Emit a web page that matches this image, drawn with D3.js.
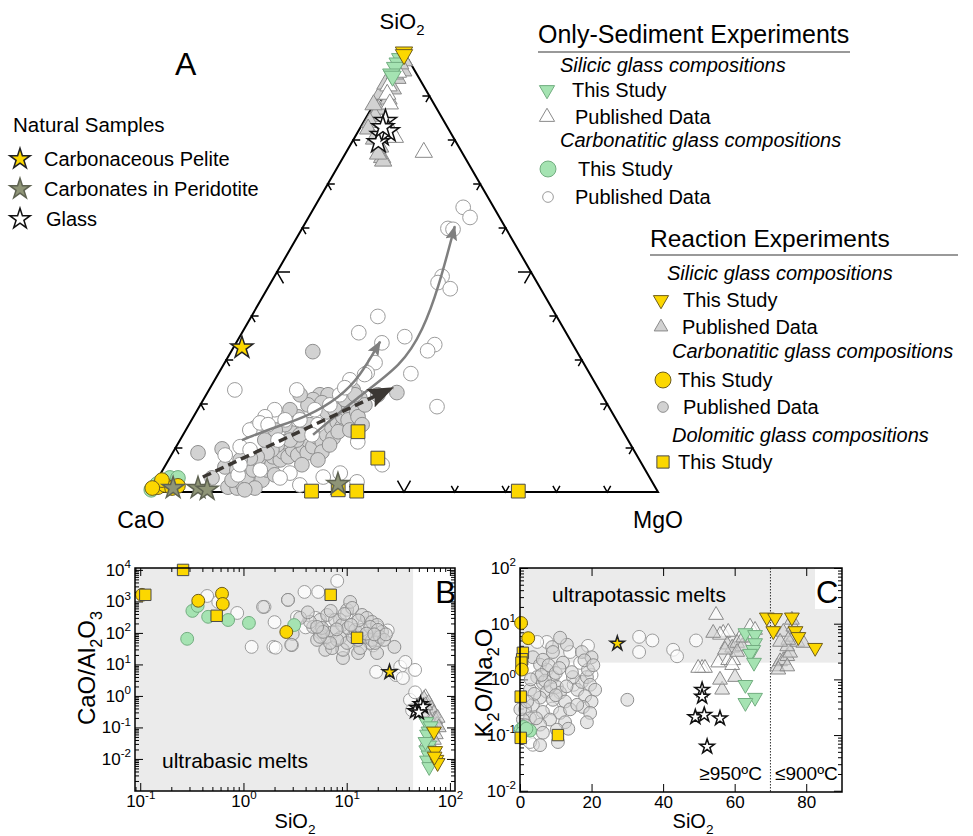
<!DOCTYPE html>
<html>
<head>
<meta charset="utf-8">
<title>SiO2-CaO-MgO melts</title>
<style>
  body { margin: 0; background: #fff; }
  svg { display: block; }
</style>
</head>
<body>
<script src="https://cdn.jsdelivr.net/npm/d3@7"></script>
<script>
// ---------- A: ternary data, [SiO2, CaO, MgO] ----------
const ternSedSilicicThis = [[98.5,1.5,0],[97.5,2.5,0],[96.5,3.5,0],[95,5,0],[94.5,5,0.5]];
const ternSedSilicicPub = [[92.3,6.9,0.8],[90.4,8.1,1.5],[80.6,11.5,7.9],[77.2,7.5,15.3],[95.4,3.5,1.1],[88.2,8.7,3.1]];
const ternSedCarbThis = [[3.2,94.5,2.3],[3.2,92.9,3.9],[1.8,97.7,0.5],[0.5,99.5,0]];
const ternSedCarbPub = [[64.7,6,29.3],[62.4,5.8,31.8],[59.9,11.4,28.7],[59.7,10.5,29.8],[49,18,33],[47.6,19.5,32.9],
  [46.2,17.8,36],[39.9,35.2,24.9],[36.2,40.8,23],[35.3,32.2,32.5],[33.9,37.4,28.7],[33.5,27.2,39.3],[32.1,29.3,38.6],
  [29.4,41,29.6],[27.1,43.7,29.2],[26.9,35.2,37.9],[23.2,71.7,5.1],[23.2,59.5,17.3],[19.4,33.8,46.8],[18.7,66.1,15.2],
  [17.1,68.8,14.1],[14.6,72,13.4],[10.3,77.1,12.6],[3.9,80.7,15.4],[4.3,70.3,25.4],[3.4,64.2,32.4],[6.2,51.2,42.6],
  [2.3,58.1,39.6],[4.3,60.4,35.3],[11.4,53.4,35.2],[14.1,73.3,12.6],[15.7,70.5,13.8],[15.3,69.1,15.6],[16.4,65.2,18.4],
  [16.4,62.3,21.3],[18.7,58.2,23.1],[19.8,54.7,25.5],[22.1,51.6,26.3],[25.5,47.9,26.6],[26.7,44.4,28.9],[23.7,49.8,26.5],
  [15.3,59.3,25.4],[11.8,68.9,19.3],[9.6,75.5,14.9],[5,75.8,19.2],[3.2,72.8,24],[1.6,69.7,28.7],[6.2,79.2,14.6],
  [8.4,81,10.6],[13,61.6,25.4]];
const ternReactSilicicThis = [[100,0,0],[99.4,0.3,0.3]];
const ternReactSilicicPub = [[98,1,1],[95.7,2.3,2],[94,4.3,1.7],[91.6,6.4,2],[90.4,9.5,0.1],[87,11.6,1.4],[85.4,13,1.6],
  [84,14.7,1.3],[82.5,15.8,1.7],[88,12,0],[78.4,15.5,6.1],[76,16.3,7.7],[75.2,16.5,8.3],[76.8,16.7,6.5],[92.7,7.3,0],
  [97.3,2.1,0.6],[95,4.3,0.7],[89.3,8.4,2.3],[82.5,11.5,6],[80.2,15.8,4]];
const ternReactCarbThis = [[1.1,97.9,1],[1.6,96.25,2.15],[0.9,95.2,3.9],[2.7,96.3,1],[0.9,99.1,0],[1.4,93.8,4.8]];
const ternReactCarbPub = [[8.9,86.1,5],[9.8,80.9,9.3],[5.7,82.4,11.9],[1.1,84.1,14.8],[0.9,82.4,16.7],[1.6,80.9,17.5],
  [4.6,80,15.4],[3.4,79.2,17.4],[5,77.2,17.8],[6.6,75,18.4],[2.7,76.6,20.7],[5,74.5,20.5],[6.2,72.9,20.9],[8,71.8,20.2],
  [7.3,70.7,22],[9.1,69.3,21.6],[8,68.8,23.2],[9.6,67.1,23.3],[8.4,66.7,24.9],[10.3,64.7,25],[8.9,64.6,26.5],
  [11.8,63,25.2],[10.3,62.8,26.9],[12.5,60.9,26.6],[11.4,60.4,28.2],[9.1,61.6,29.3],[13,58.7,28.3],[14.6,56.9,28.5],
  [12.3,57.8,29.9],[15.9,55.2,28.9],[14.8,54.8,30.4],[17.1,53.5,29.4],[18.7,51.9,29.4],[16.4,52.8,30.8],[20.3,49.9,29.8],
  [18.2,50.2,31.6],[17.1,50.5,32.4],[22.1,55.5,22.4],[22.1,53.9,24],[21,57.4,21.6],[20.3,56,23.7],[19.8,59,21.2],
  [18.2,56.1,25.7],[21,52.1,26.9],[23.2,48.4,28.4],[17.1,62.3,20.6],[14.6,62.6,22.8],[13.4,65.3,21.3],[11.8,65.2,23],
  [11.4,68.1,20.5],[10.7,69.6,19.7],[9.6,71.2,19.2],[8.9,72.5,18.6],[8,74.9,17.1],[7.7,76.4,15.9],[7.3,78.6,14.1],
  [5,80.4,14.6],[31.9,52,16.1],[22.6,40.1,37.3],[22.1,44.1,33.8],[2.7,82.5,14.8],[3.2,86.2,10.6],[11.8,66.5,21.7],
  [13,64,23],[15.3,65.8,18.9],[15.3,60.9,23.8],[18.7,54.3,27],[21,51.1,27.9],[21.4,48,30.6],[19.8,47.8,32.4],
  [15.3,50.6,34.1],[7.3,63.3,29.4],[6.2,67,26.8],[3.9,73.5,22.6],[0.9,78.9,20.2],[0.5,81.1,18.4],[10.7,59.3,30],
  [13.7,56.1,30.2],[14.1,53.6,32.3],[22.1,59.4,18.5],[18.7,63.1,18.2],[14.1,68.3,17.6],[11.8,71.5,16.7],[22.1,48.6,29.3]];
const ternReactDoloThis = [[13.7,52.2,34.1],[7.7,51.3,41],[0.2,68.1,31.7],[0.5,62.7,36.8],[0.2,59.2,40.6],[0.2,27.4,72.4]];
const ternPelite = [[32.8,65.5,1.7]];
const ternPeridotite = [[0.9,95,4.1],[0.9,90.1,9],[0.5,88.5,11],[1.8,62.1,36.1]];
const ternGlass = [[84.3,11.5,4.2],[81.1,13.9,5],[79.5,15.3,5.2],[82,12.1,5.9],[82.9,12.7,4.4]];
// trend arrows
const trendLow = [[11.8,76,12.2],[14.6,68.5,16.9],[17.1,60.5,22.4],[21.6,51.8,26.6],[26.2,45.6,28.2],[34.2,37.6,28.2]];
const trendHigh = [[13,61.4,25.6],[21.4,48.6,30],[28.9,35.8,35.3],[36.9,27.8,35.3],[46,20.3,33.7],[60.4,9.8,29.8]];
const trendDashed = [[3.4,87.9,8.7],[23.7,40.3,36]];

// ---------- B: [SiO2, CaO/Al2O3] ----------
const bSedCarbThis = [[0.32,500],[0.36,720],[0.285,65],[0.455,325],[0.71,257],[1.13,208],[3.1,178]];
const bSedCarbPub = [[0.445,1490],[0.57,960],[0.87,430],[1.6,670],[2.7,1120],[3.9,2000],[5.3,2000],[1.2,36],[1.95,36],
  [2.05,34],[2.95,41],[2,220],[3.3,320],[8.1,4480],[19.3,5.8],[33,8.4],[30,4.6],[37,12],[46,6.7],[35,3.7],[41,0.75],
  [43,0.35],[46,1.3],[5,300],[7,250],[10,400],[15,200],[20,150],[25,120],[12,80],[18,40],[9,30],[4,150],[6,80]];
const bReactCarbThis = [[0.104,1620],[0.365,1050],[0.62,1750],[0.63,830],[2.6,107]];
const bReactCarbPub = [[1.55,670],[2.7,1120],[3,93],[2.9,42],[5.5,108],[6.2,29],[9.2,16],[12.9,23],[19.7,23],[29,36],
  [10.1,540],[8.6,259],[10.8,965],[11.3,622],[14.1,372],[15.7,300],[17.6,223],[19.7,179],[22,108],[20.1,60],[16.9,48],
  [13.5,33],[9.23,29],[7.22,33],[5.17,60],[6.46,75],[7.38,108],[8.63,69],[10.1,48],[11.5,75],[12.9,60],[15.1,75],
  [17.6,60],[18.8,48],[4.73,155],[5.52,259],[6.46,372],[7.72,259],[9.02,179],[10.3,144],[12.1,125],[8.07,60],[6.9,48],
  [5.52,75],[4.42,223],[3.54,300],[5.78,144],[5.91,108],[5.17,155],[14.1,125],[16.9,155],[20.1,125],[21,75],[23,60],
  [24,90],[9.5,400],[7,500],[4.2,450],[13,250],[11,180],[8,130],[15.5,95],[18.5,90]];
const bReactDoloThis = [[0.26,10000],[0.112,1620],[0.55,350],[7,1620],[12.6,70]];
const bSedSilicicThis = [[59,0.15],[62,0.075],[60,0.06],[63,0.027],[59,0.019],[62,0.013],[60,0.009],[63,0.0056],[65,0.11],[58,0.035]];
const bSedSilicicPub = [[54,0.7],[58,0.9],[62,0.3],[66,0.05],[60,0.035],[64,0.02],[70,0.13]];
const bReactSilicicThis = [[70,0.075],[72,0.018],[74,0.0095],[76,0.0075],[71,0.012]];
const bReactSilicicPub = [[56,0.8],[62,0.6],[66,0.4],[70,0.28],[72,0.18],[75,0.12],[68,0.09],[73,0.06],[70,0.04],
  [64,0.03],[68,0.02],[60,0.25],[65,0.15],[58,0.5],[76,0.2],[78,0.1]];
const bPelite = [[26,5.7]];
const bGlass = [[48,0.42],[52,0.55],[46,0.33],[55,0.45],[50,0.3]];

// ---------- C: [SiO2, K2O/Na2O] ----------
const cSedCarbThis = [[0.2,0.126],[1,0.14],[2.8,0.12],[0.6,0.11],[1.8,0.13]];
const cSedCarbPub = [[7.5,4.7],[14,3.1],[33.3,5.8],[33.3,3.1],[37,5],[42.8,3.4],[43.9,2.6],[49.2,5],[4.8,4.7],[19,4],
  [16.8,1.98],[3.6,0.067],[2.8,0.075],[9,0.3],[15,0.8],[20,1.2]];
const cReactCarbThis = [[0.3,10.3],[2.3,5.5],[0.5,1.5]];
const cReactCarbPub = [[9,3.8],[9.2,3.1],[13.1,4.2],[17.3,3.1],[20,2.5],[3.6,2.5],[5.6,1.83],[7.5,1.49],[4.8,1.1],
  [9.2,1.1],[6.4,0.87],[10.3,0.73],[2.8,0.65],[7.5,0.6],[11.2,0.58],[5.6,0.47],[9.2,0.43],[12.6,0.4],[3.6,0.35],
  [1.4,0.29],[6.4,0.26],[11.2,0.25],[14,0.29],[2.8,0.2],[8.4,0.19],[12.6,0.17],[5.6,0.154],[16,0.65],[17.3,0.9],
  [18.7,1.1],[19.6,0.8],[21,0.65],[18.2,0.5],[20,0.4],[17.6,0.32],[19.6,0.25],[18.7,0.17],[14.8,1.1],[14.5,1.35],
  [19,1.49],[12,2],[6.4,2.25],[11.2,5.6],[10.3,0.125],[6.4,0.11],[5.6,0.066],[10.6,0.075],[30,0.43],[0.8,0.19],
  [0.1,0.29],[8,1.8],[10,1.3],[7,0.95],[8.5,0.75],[4,0.55],[10,0.52],[13,0.75],[11,1.6],[6,1.2],[3,1],[2,0.4],
  [4.5,0.2],[13.5,0.13],[18,2.2],[20.5,1.8],[16,0.35],[1.5,0.15]];
const cReactDoloThis = [[0.8,3],[0.6,2.3],[0.4,2],[0.2,0.49],[0.2,0.089],[10.6,0.1]];
const cSedSilicicThis = [[63,6.8],[65.7,6.3],[65.7,4.5],[65.2,3.4],[64.3,2.9],[65.4,2],[63,0.8],[65.7,0.47],[63,0.38]];
const cSedSilicicPub = [[54.8,14.3],[56.8,6.8],[58.2,7.1],[55.9,6.3],[64.3,8.8],[65.7,7.7],[50.9,1.6],[51.7,1.6],
  [49.8,1.6],[55.4,2],[58.2,2.2],[59.6,2.2],[59.3,1.8],[61.5,5.6]];
const cReactSilicicThis = [[69,13],[71.3,12.7],[76,13],[70.8,7.4],[77,7.4],[77.8,5.8],[82.5,3.7]];
const cReactSilicicPub = [[60.1,1.1],[56.5,0.65],[55.9,0.98],[57.9,4.2],[59.3,3.7],[60.7,4.5],[62.1,3.9],[60.7,3.1],
  [57.3,3.4],[62.4,5.6],[71.9,1.7],[72.7,2.1],[73.6,2.2],[74.7,2.6],[75.5,3],[74.7,3.9],[76.4,5.8],[77.5,4.7],
  [79.2,4.5],[73.6,7.1],[75,5.1],[76.4,8.8],[76,11.7],[72.7,4.7],[72.2,1.49],[74.7,1.7],[54,6.8]];
const cPelite = [[27.2,4.4]];
const cGlass = [[50.9,0.65],[50.9,0.49],[49,0.21],[51.5,0.23],[55.9,0.2],[52.3,0.062]];

// tick values
const ternTicks = [10,20,30,40,50,60,70,80,90];
const bMajorX = [0.1,1,10,100];
const bMajorY = [0.01,0.1,1,10,100,1000,10000];
const cMajorX = [0,20,40,60,80];
const cMajorY = [0.01,0.1,1,10,100];

// ---------- setup ----------
const font = 'Liberation Sans, Arial, Helvetica, sans-serif';
const svg = d3.select('body').append('svg')
  .attr('width', 973).attr('height', 836)
  .style('font-family', font);

const yellow = '#fcd700', green = '#a5e3b2';
const looks = {
  sedSilicicThis:   {shape: 'down',   fill: green,    stroke: '#72ad80'},
  sedSilicicPub:    {shape: 'up',     fill: '#fff',   stroke: '#8a8a8a'},
  sedCarbThis:      {shape: 'circle', fill: green,    stroke: '#72ad80'},
  sedCarbPub:       {shape: 'circle', fill: '#fff',   stroke: '#9c9c9c'},
  reactSilicicThis: {shape: 'down',   fill: yellow,   stroke: '#6e5d1c'},
  reactSilicicPub:  {shape: 'up',     fill: '#d2d2d2', stroke: '#8a8a8a'},
  reactCarbThis:    {shape: 'circle', fill: yellow,   stroke: '#6e5d1c'},
  reactCarbPub:     {shape: 'circle', fill: '#d2d2d2', stroke: '#8f8f8f'},
  reactDoloThis:    {shape: 'square', fill: yellow,   stroke: '#4a4a4a'},
  pelite:           {shape: 'star',   fill: yellow,   stroke: '#222'},
  peridotite:       {shape: 'star',   fill: '#8f9577', stroke: '#5f6352'},
  glass:            {shape: 'star',   fill: '#fff',   stroke: '#111'}
};
const symbolOf = {circle: d3.symbolCircle, up: d3.symbolTriangle, down: d3.symbolTriangle,
  square: d3.symbolSquare, star: d3.symbolStar};

function drawMarks(g, data, key, pos, sizes, alpha) {
  const lk = looks[key];
  g.append('g').selectAll('path').data(data).join('path')
    .attr('d', d3.symbol(symbolOf[lk.shape], sizes[lk.shape]))
    .attr('transform', d => {
      const p = pos(d);
      return `translate(${p[0]},${p[1]})` + (lk.shape === 'down' ? ' rotate(180)' : '');
    })
    .attr('fill', lk.fill)
    .attr('fill-opacity', alpha || 1)
    .attr('stroke', lk.stroke)
    .attr('stroke-width', lk.shape === 'star' ? 1.5 : 1);
}

// text with sub/superscripts: parts = [[text, 'sub'|'sup'|null], ...]
function rich(sel, parts, fs) {
  let shift = 0;
  parts.forEach(([t, kind]) => {
    const ts = sel.append('tspan').text(t);
    const target = kind === 'sub' ? 0.28 * fs : kind === 'sup' ? -0.45 * fs : 0;
    if (target !== shift) ts.attr('dy', target - shift);
    if (kind) ts.attr('font-size', fs * 0.68);
    shift = target;
  });
  return sel;
}

// ---------- A: ternary ----------
const tx = d3.scaleLinear().domain([0, 100]).range([150, 658]);
const ty = d3.scaleLinear().domain([0, 100]).range([492, 52]);
const tern = d => {
  const s = d[0] + d[1] + d[2], si = d[0] / s * 100, mg = d[2] / s * 100;
  return [tx(mg + si / 2), ty(si)];
};
const gA = svg.append('g');
const corners = [[100,0,0],[0,100,0],[0,0,100]];
gA.append('path')
  .attr('d', d3.line()(corners.map(tern)) + 'Z')
  .attr('fill', 'none').attr('stroke', '#000').attr('stroke-width', 2);

// chevron ticks along each side
const c60 = 0.5, s60 = Math.sqrt(3) / 2;
const sides = [
  {pt: k => [0, 100 - k, k], arms: [[c60, -s60], [-c60, -s60]]},
  {pt: k => [k, 100 - k, 0], arms: [[1, 0], [c60, s60]]},
  {pt: k => [k, 0, 100 - k], arms: [[-1, 0], [-c60, s60]]}
];
sides.forEach(sd => {
  gA.append('g').selectAll('path').data(ternTicks).join('path')
    .attr('d', k => {
      const p = tern(sd.pt(k)), L = k === 50 ? 13 : 7;
      return `M${p[0] + sd.arms[0][0] * L},${p[1] + sd.arms[0][1] * L}L${p[0]},${p[1]}` +
        `L${p[0] + sd.arms[1][0] * L},${p[1] + sd.arms[1][1] * L}`;
    })
    .attr('fill', 'none').attr('stroke', '#000').attr('stroke-width', 1.5);
});

const ternSize = {circle: 170, up: 130, down: 130, square: 190, star: 150};
drawMarks(gA, ternReactCarbPub, 'reactCarbPub', tern, ternSize);
drawMarks(gA, ternSedCarbPub, 'sedCarbPub', tern, ternSize);
drawMarks(gA, ternReactSilicicPub, 'reactSilicicPub', tern, ternSize);
drawMarks(gA, ternSedSilicicPub, 'sedSilicicPub', tern, ternSize);

// trend arrows
const defs = svg.append('defs');
function arrowHead(id, color, w, h) {
  defs.append('marker').attr('id', id)
    .attr('viewBox', `0 0 ${w} ${h}`).attr('refX', w - 1).attr('refY', h / 2)
    .attr('markerWidth', w).attr('markerHeight', h)
    .attr('markerUnits', 'userSpaceOnUse').attr('orient', 'auto')
    .append('path').attr('d', `M0,0L${w},${h / 2}L0,${h}L${w * 0.18},${h / 2}Z`).attr('fill', color);
}
arrowHead('headGrey', '#7f7f7f', 15, 12);
arrowHead('headDark', '#3b3733', 26, 20);
const curve = d3.line().curve(d3.curveBasis);
[trendLow, trendHigh].forEach(tr => {
  gA.append('path').attr('d', curve(tr.map(tern)))
    .attr('fill', 'none').attr('stroke', '#7f7f7f').attr('stroke-width', 2.5)
    .attr('marker-end', 'url(#headGrey)');
});
gA.append('path').attr('d', d3.line()(trendDashed.map(tern)))
  .attr('fill', 'none').attr('stroke', '#3b3733').attr('stroke-width', 3.5)
  .attr('stroke-dasharray', '9,5').attr('marker-end', 'url(#headDark)');

drawMarks(gA, ternGlass, 'glass', tern, ternSize);
drawMarks(gA, ternSedSilicicThis, 'sedSilicicThis', tern, ternSize);
drawMarks(gA, ternReactSilicicThis, 'reactSilicicThis', tern, ternSize);
drawMarks(gA, ternSedCarbThis, 'sedCarbThis', tern, ternSize);
drawMarks(gA, ternReactCarbThis, 'reactCarbThis', tern, ternSize);
drawMarks(gA, ternReactDoloThis, 'reactDoloThis', tern, ternSize);
drawMarks(gA, ternPeridotite, 'peridotite', tern, ternSize);
drawMarks(gA, ternPelite, 'pelite', tern, ternSize);

rich(gA.append('text').attr('x', 402).attr('y', 29).attr('text-anchor', 'middle').attr('font-size', 22),
  [['SiO'], ['2', 'sub']], 22);
gA.append('text').attr('x', 141).attr('y', 528).attr('text-anchor', 'middle').attr('font-size', 23).text('CaO');
gA.append('text').attr('x', 658).attr('y', 528).attr('text-anchor', 'middle').attr('font-size', 23).text('MgO');
gA.append('text').attr('x', 175).attr('y', 75).attr('font-size', 32).text('A');

// ---------- legends ----------
const legSize = {circle: 150, up: 100, down: 100, square: 160, star: 130};
function legendItem(x, y, key, label, size, tx0) {
  drawMarks(svg, [[x, y]], key, d => d, {...legSize, ...size});
  svg.append('text').attr('x', tx0).attr('y', y + 7).attr('font-size', 20).text(label);
}
function legendHead(x, y, label, fs, italic) {
  return svg.append('text').attr('x', x).attr('y', y).attr('font-size', fs)
    .attr('font-style', italic ? 'italic' : null).text(label);
}
// natural samples
legendHead(13, 132, 'Natural Samples', 20.5);
legendItem(20, 159, 'pelite', 'Carbonaceous Pelite', {}, 44);
legendItem(20, 189, 'peridotite', 'Carbonates in Peridotite', {}, 44);
legendItem(20, 219, 'glass', 'Glass', {}, 46);
// only-sediment experiments
legendHead(538, 43, 'Only-Sediment Experiments', 25);
svg.append('line').attr('x1', 538).attr('x2', 850).attr('y1', 52).attr('y2', 52).attr('stroke', '#777').attr('stroke-width', 1.5);
legendHead(560, 72, 'Silicic glass compositions', 20, true);
legendItem(547, 90, 'sedSilicicThis', 'This Study', {}, 572);
legendItem(547, 117, 'sedSilicicPub', 'Published Data', {}, 575);
legendHead(560, 147, 'Carbonatitic glass compositions', 20, true);
legendItem(548, 169, 'sedCarbThis', 'This Study', {circle: 200}, 578);
legendItem(548, 197, 'sedCarbPub', 'Published Data', {circle: 90}, 575);
// reaction experiments
legendHead(650, 247, 'Reaction Experiments', 24.5);
svg.append('line').attr('x1', 650).attr('x2', 958).attr('y1', 255).attr('y2', 255).attr('stroke', '#777').attr('stroke-width', 1.5);
legendHead(667, 280, 'Silicic glass compositions', 20, true);
legendItem(661, 300, 'reactSilicicThis', 'This Study', {}, 683);
legendItem(661, 327, 'reactSilicicPub', 'Published Data', {up: 80}, 682);
legendHead(672, 358, 'Carbonatitic glass compositions', 20, true);
legendItem(663, 380, 'reactCarbThis', 'This Study', {circle: 200}, 678);
legendItem(663, 407, 'reactCarbPub', 'Published Data', {circle: 90}, 683);
legendHead(672, 442, 'Dolomitic glass compositions', 20, true);
legendItem(663, 462, 'reactDoloThis', 'This Study', {square: 150}, 678);

// ---------- axis helpers ----------
const tickFont = 17;
function tickSet(g, axisFn, scale, vals, size, x, y, labels) {
  const a = g.append('g').attr('transform', `translate(${x},${y})`)
    .call(axisFn(scale).tickValues(vals).tickSize(size).tickPadding(labels ? 4 : 0)
      .tickFormat(labels === 'pow' ? (v => '') : labels ? (v => v) : (v => '')));
  a.select('.domain').remove();
  a.attr('font-family', font).attr('font-size', tickFont);
  a.selectAll('line').attr('stroke', '#000').attr('stroke-width', 1);
  a.selectAll('text').attr('fill', '#000');
  if (labels === 'pow') {
    a.selectAll('.tick text').each(function(v) {
      rich(d3.select(this), [['10'], [String(Math.round(Math.log10(v))), 'sup']], tickFont);
    });
  }
  return a;
}
function minorLog(e0, e1, lo, hi) {
  const v = [];
  for (let e = e0; e <= e1; e++) for (let k = 2; k <= 9; k++) v.push(k * Math.pow(10, e));
  return v.filter(t => t >= lo && t <= hi);
}

// ---------- B ----------
const bx = d3.scaleLog().domain([0.089, 112]).range([135, 455]);
const by = d3.scaleLog().domain([0.00096, 11500]).range([791, 568]);
const gB = svg.append('g');
gB.append('rect').attr('x', 135).attr('y', 568).attr('width', bx(44) - 135).attr('height', 223).attr('fill', '#ebebeb');
const bMinorX = minorLog(-2, 1, 0.089, 112);
const bMinorY = minorLog(-4, 3, 0.00096, 11500);
tickSet(gB, d3.axisBottom, bx, bMajorX, -8, 0, 791, 'pow');
tickSet(gB, d3.axisBottom, bx, bMinorX, -4, 0, 791);
tickSet(gB, d3.axisTop, bx, bMajorX, -8, 0, 568);
tickSet(gB, d3.axisTop, bx, bMinorX, -4, 0, 568);
tickSet(gB, d3.axisLeft, by, bMajorY, -8, 135, 0, 'pow');
tickSet(gB, d3.axisLeft, by, bMinorY, -4, 135, 0);
tickSet(gB, d3.axisRight, by, bMajorY, -8, 455, 0);
tickSet(gB, d3.axisRight, by, bMinorY, -4, 455, 0);

const ptSize = {circle: 130, up: 95, down: 95, square: 130, star: 65};
const bPos = d => [bx(d[0]), by(d[1])];
drawMarks(gB, bSedCarbPub, 'sedCarbPub', bPos, ptSize, 0.7);
drawMarks(gB, bReactCarbPub, 'reactCarbPub', bPos, ptSize, 0.55);
drawMarks(gB, bSedSilicicPub, 'sedSilicicPub', bPos, ptSize, 0.7);
drawMarks(gB, bReactSilicicPub, 'reactSilicicPub', bPos, ptSize, 0.6);
drawMarks(gB, bSedSilicicThis, 'sedSilicicThis', bPos, ptSize);
drawMarks(gB, bReactSilicicThis, 'reactSilicicThis', bPos, ptSize);
drawMarks(gB, bGlass, 'glass', bPos, ptSize);
drawMarks(gB, bPelite, 'pelite', bPos, ptSize);
drawMarks(gB, bSedCarbThis, 'sedCarbThis', bPos, ptSize);
drawMarks(gB, bReactCarbThis, 'reactCarbThis', bPos, ptSize);
drawMarks(gB, bReactDoloThis, 'reactDoloThis', bPos, ptSize);
gB.append('rect').attr('x', 135).attr('y', 568).attr('width', 320).attr('height', 223)
  .attr('fill', 'none').attr('stroke', '#000').attr('stroke-width', 1.5);
gB.append('text').attr('x', 162).attr('y', 768).attr('font-size', 21).text('ultrabasic melts');
gB.append('text').attr('x', 456).attr('y', 603).attr('text-anchor', 'end').attr('font-size', 31).text('B');
rich(gB.append('text').attr('x', 295).attr('y', 828).attr('text-anchor', 'middle').attr('font-size', 20),
  [['SiO'], ['2', 'sub']], 20);
rich(gB.append('text').attr('transform', 'translate(95,668) rotate(-90)').attr('text-anchor', 'middle').attr('font-size', 24),
  [['CaO/Al'], ['2', 'sub'], ['O'], ['3', 'sub']], 24);

// ---------- C ----------
const cx = d3.scaleLinear().domain([0, 90]).range([520, 842]);
const cy = d3.scaleLog().domain([0.0095, 100]).range([792, 568]);
const gC = svg.append('g');
gC.append('rect').attr('x', 520).attr('y', 568).attr('width', 322).attr('height', cy(2) - 568).attr('fill', '#ebebeb');
gC.append('rect').attr('x', 815).attr('y', 569).attr('width', 26).attr('height', 40).attr('fill', '#fff');
const cMinorY = minorLog(-3, 1, 0.0095, 100);
tickSet(gC, d3.axisBottom, cx, cMajorX, -8, 0, 792, true);
tickSet(gC, d3.axisTop, cx, cMajorX, -8, 0, 568);
tickSet(gC, d3.axisLeft, cy, cMajorY, -8, 520, 0, 'pow');
tickSet(gC, d3.axisLeft, cy, cMinorY, -4, 520, 0);
tickSet(gC, d3.axisRight, cy, cMajorY, -8, 842, 0);
tickSet(gC, d3.axisRight, cy, cMinorY, -4, 842, 0);
gC.append('line').attr('x1', cx(70)).attr('x2', cx(70)).attr('y1', 568).attr('y2', 792)
  .attr('stroke', '#333').attr('stroke-width', 1).attr('stroke-dasharray', '1.5,1.5');

const cPos = d => [cx(d[0]), cy(d[1])];
drawMarks(gC, cSedCarbPub, 'sedCarbPub', cPos, ptSize, 0.7);
drawMarks(gC, cReactCarbPub, 'reactCarbPub', cPos, ptSize, 0.55);
drawMarks(gC, cSedSilicicPub, 'sedSilicicPub', cPos, ptSize, 0.7);
drawMarks(gC, cReactSilicicPub, 'reactSilicicPub', cPos, ptSize, 0.6);
drawMarks(gC, cSedSilicicThis, 'sedSilicicThis', cPos, ptSize);
drawMarks(gC, cReactSilicicThis, 'reactSilicicThis', cPos, ptSize);
drawMarks(gC, cGlass, 'glass', cPos, ptSize);
drawMarks(gC, cPelite, 'pelite', cPos, ptSize);
drawMarks(gC, cSedCarbThis, 'sedCarbThis', cPos, ptSize);
drawMarks(gC, cReactDoloThis, 'reactDoloThis', cPos, ptSize);
drawMarks(gC, cReactCarbThis, 'reactCarbThis', cPos, ptSize);
gC.append('rect').attr('x', 520).attr('y', 568).attr('width', 322).attr('height', 224)
  .attr('fill', 'none').attr('stroke', '#000').attr('stroke-width', 1.5);
gC.append('text').attr('x', 552).attr('y', 602).attr('font-size', 21).text('ultrapotassic melts');
gC.append('text').attr('x', 816).attr('y', 603).attr('font-size', 31).text('C');
gC.append('text').attr('x', 762).attr('y', 780).attr('text-anchor', 'end').attr('font-size', 19).text('≥950ºC');
gC.append('text').attr('x', 775).attr('y', 780).attr('font-size', 19).text('≤900ºC');
rich(gC.append('text').attr('x', 693).attr('y', 828).attr('text-anchor', 'middle').attr('font-size', 20),
  [['SiO'], ['2', 'sub']], 20);
rich(gC.append('text').attr('transform', 'translate(492,683) rotate(-90)').attr('text-anchor', 'middle').attr('font-size', 24),
  [['K'], ['2', 'sub'], ['O/Na'], ['2', 'sub'], ['O']], 24);
</script>
</body>
</html>
